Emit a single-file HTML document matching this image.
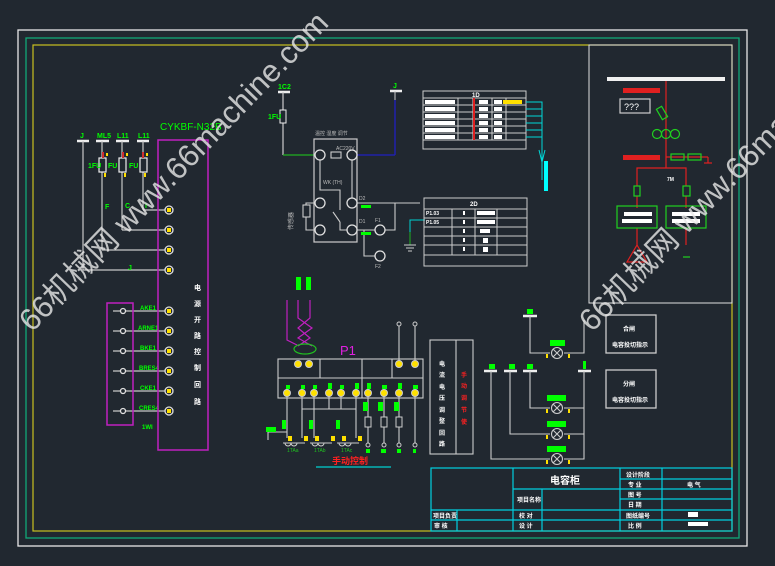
<!DOCTYPE html>
<html><head><meta charset="utf-8"><style>
html,body{margin:0;padding:0;background:#212830;width:775px;height:566px;overflow:hidden}
svg{display:block}
text{font-family:"Liberation Sans","Noto Sans CJK SC",sans-serif}
</style></head><body>
<svg width="775" height="566" viewBox="0 0 775 566" xmlns="http://www.w3.org/2000/svg">
<rect width="775" height="566" fill="#212830"/>
<!-- frames -->
<rect x="18" y="30" width="729" height="516" fill="none" stroke="#e8e8e8" stroke-width="1.3"/>
<rect x="26" y="38" width="713" height="500" fill="none" stroke="#10a878" stroke-width="1.3"/>
<rect x="33" y="45" width="699" height="486" fill="none" stroke="#c8c020" stroke-width="1.2"/>
<rect x="589" y="45" width="143" height="258" fill="none" stroke="#e0e0e0" stroke-width="1"/>

<g stroke="#c8c8c8" stroke-width="1.2" fill="none">
<!-- left terminals -->
<line x1="77" y1="141" x2="89" y2="141" stroke-width="2.5" stroke="#eee"/>
<line x1="96" y1="141" x2="109" y2="141" stroke-width="2.5" stroke="#eee"/>
<line x1="116" y1="141" x2="129" y2="141" stroke-width="2.5" stroke="#eee"/>
<line x1="137" y1="141" x2="149" y2="141" stroke-width="2.5" stroke="#eee"/>
<line x1="83" y1="141" x2="83" y2="270"/>
<line x1="102" y1="141" x2="102" y2="250"/>
<line x1="122" y1="141" x2="122" y2="230"/>
<line x1="143" y1="141" x2="143" y2="210"/>
<rect x="99" y="158" width="7" height="14" fill="#212830" stroke="#eee"/>
<rect x="119" y="158" width="7" height="14" fill="#212830" stroke="#eee"/>
<rect x="140" y="158" width="7" height="14" fill="#212830" stroke="#eee"/>
<line x1="143" y1="210" x2="166" y2="210"/>
<line x1="122" y1="230" x2="166" y2="230"/>
<line x1="102" y1="250" x2="166" y2="250"/>
<line x1="83" y1="270" x2="166" y2="270"/>
<!-- lower terminals -->
<line x1="113" y1="311" x2="166" y2="311"/><line x1="113" y1="331" x2="166" y2="331"/>
<line x1="113" y1="351" x2="166" y2="351"/><line x1="113" y1="371" x2="166" y2="371"/>
<line x1="113" y1="391" x2="166" y2="391"/><line x1="113" y1="411" x2="166" y2="411"/>
</g>
<g fill="#d03030"><rect x="102" y="152" width="2" height="6"/><rect x="122" y="152" width="2" height="6"/><rect x="142" y="152" width="2" height="6"/></g>
<g fill="#ffe000"><rect x="106" y="153" width="2" height="3"/><rect x="126" y="153" width="2" height="3"/><rect x="146" y="153" width="2" height="3"/>
<rect x="104" y="173" width="2" height="4"/><rect x="124" y="173" width="2" height="4"/><rect x="144" y="173" width="2" height="4"/></g>
<g fill="#00ff00" font-size="7" font-weight="bold">
<text x="80" y="138">J</text><text x="97" y="138">ML5</text><text x="117" y="138">L11</text><text x="138" y="138">L11</text>
<text x="88" y="168">1FU</text><text x="108" y="168">FU</text><text x="129" y="168">FU</text>
<text x="105" y="209">F</text><text x="125" y="208">C</text><text x="145" y="208">I</text><text x="128" y="270">J</text>
<text x="160" y="130" font-size="10" font-weight="normal">CYKBF-N32B</text>
<text x="140" y="310" font-size="6">AKE1</text><text x="138" y="330" font-size="6">ARNE1</text><text x="140" y="350" font-size="6">BKE1</text>
<text x="139" y="370" font-size="6">BRES4</text><text x="140" y="390" font-size="6">CKE1</text><text x="139" y="410" font-size="6">CRES4</text>
<text x="142" y="429" font-size="6">1WI</text>
</g>
<rect x="158" y="140" width="50" height="310" fill="none" stroke="#c020c0" stroke-width="1.5"/>
<rect x="107" y="303" width="26" height="122" fill="none" stroke="#c020c0" stroke-width="1.5"/>
<g stroke="#e0e0e0" stroke-width="1.3" fill="#212830">
<circle cx="169" cy="210" r="4"/><circle cx="169" cy="230" r="4"/><circle cx="169" cy="250" r="4"/><circle cx="169" cy="270" r="4"/>
<circle cx="169" cy="311" r="4"/><circle cx="169" cy="331" r="4"/><circle cx="169" cy="351" r="4"/><circle cx="169" cy="371" r="4"/><circle cx="169" cy="391" r="4"/><circle cx="169" cy="411" r="4"/>
<circle cx="123" cy="311" r="2.5"/><circle cx="123" cy="331" r="2.5"/><circle cx="123" cy="351" r="2.5"/><circle cx="123" cy="371" r="2.5"/><circle cx="123" cy="391" r="2.5"/><circle cx="123" cy="411" r="2.5"/>
</g>
<g fill="#ffe000"><rect x="167" y="208" width="4" height="4"/><rect x="167" y="228" width="4" height="4"/><rect x="167" y="248" width="4" height="4"/><rect x="167" y="268" width="4" height="4"/>
<rect x="167" y="309" width="4" height="4"/><rect x="167" y="329" width="4" height="4"/><rect x="167" y="349" width="4" height="4"/><rect x="167" y="369" width="4" height="4"/><rect x="167" y="389" width="4" height="4"/><rect x="167" y="409" width="4" height="4"/></g>
<g fill="#fff" font-size="7" font-weight="bold"><text x="194" y="290">电</text><text x="194" y="306">源</text><text x="194" y="322">开</text><text x="194" y="338">路</text><text x="194" y="354">控</text><text x="194" y="370">制</text><text x="194" y="387">回</text><text x="194" y="404">路</text></g>

<!-- middle relay -->
<line x1="278" y1="92" x2="290" y2="92" stroke="#eee" stroke-width="2.5"/>
<line x1="283" y1="92" x2="283" y2="155" stroke="#ccc" stroke-width="1.2"/>
<rect x="280" y="110" width="6" height="13" fill="#212830" stroke="#eee"/>
<line x1="283" y1="155" x2="315" y2="155" stroke="#20b020" stroke-width="1.2"/>
<line x1="357" y1="155" x2="395" y2="155" stroke="#2020c0" stroke-width="1.3"/>
<line x1="395" y1="155" x2="395" y2="100" stroke="#2020c0" stroke-width="1.3"/>
<line x1="390" y1="91" x2="402" y2="91" stroke="#eee" stroke-width="2.5"/>
<line x1="395" y1="91" x2="395" y2="100" stroke="#ccc"/>
<g fill="#00ff00" font-size="7" font-weight="bold"><text x="278" y="89">1C2</text><text x="268" y="119">1FU</text><text x="393" y="88">J</text></g>
<rect x="314" y="139" width="43" height="103" fill="none" stroke="#ccc" stroke-width="1.2"/>
<g fill="#bbb" font-size="5"><text x="315" y="135">温控 湿度 调节</text><text x="336" y="150">AC220V</text><text x="323" y="184">WK (TH)</text><text x="359" y="200">D2</text><text x="359" y="223">D1</text><text x="375" y="222">F1</text><text x="375" y="268">F2</text></g>
<text x="293" y="230" fill="#bbb" font-size="6" transform="rotate(-90 293 230)">传感器</text>
<g stroke="#ccc" stroke-width="1.1" fill="none">
<rect x="331" y="152" width="10" height="6"/>
<polyline points="320,160 320,190 340,190 340,210"/>
<polyline points="352,160 352,198"/>
<line x1="333" y1="212" x2="340" y2="222"/>
<polyline points="352,230 340,230 340,222"/>
<rect x="303" y="205" width="7" height="12"/>
<polyline points="306,205 306,203 316,203"/><polyline points="306,217 306,230 316,230"/>
<line x1="356" y1="203" x2="420" y2="203"/><line x1="356" y1="230" x2="375" y2="230"/>
<polyline points="364,230 364,256 376,256"/>
<polyline points="385,230 395,230 395,203"/>
</g>
<g stroke="#e0e0e0" stroke-width="1.3" fill="#212830">
<circle cx="320" cy="155" r="5"/><circle cx="352" cy="155" r="5"/><circle cx="320" cy="203" r="5"/><circle cx="352" cy="203" r="5"/><circle cx="320" cy="230" r="5"/><circle cx="352" cy="230" r="5"/>
<circle cx="380" cy="230" r="5"/><circle cx="380" cy="256" r="5"/>
</g>
<rect x="361" y="205" width="10" height="3" fill="#00ff00"/><rect x="361" y="232" width="10" height="3" fill="#00ff00"/>
<polyline points="410,232 410,220 425,220" stroke="#00d0d0" fill="none"/>
<line x1="410" y1="232" x2="410" y2="245" stroke="#20b020"/>
<g stroke="#ccc"><line x1="404" y1="245" x2="416" y2="245"/><line x1="406" y1="248" x2="414" y2="248"/><line x1="408" y1="251" x2="412" y2="251"/></g>

<!-- table1 -->
<g stroke="#ccc" stroke-width="1" fill="none">
<rect x="423" y="91" width="103" height="58"/>
<line x1="423" y1="98" x2="526" y2="98"/><line x1="423" y1="140" x2="526" y2="140"/>
<line x1="458" y1="98" x2="458" y2="140"/><line x1="473" y1="98" x2="473" y2="140"/><line x1="492" y1="98" x2="492" y2="140"/><line x1="506" y1="98" x2="506" y2="140"/>
<line x1="423" y1="105" x2="526" y2="105"/><line x1="423" y1="112" x2="526" y2="112"/><line x1="423" y1="119" x2="526" y2="119"/><line x1="423" y1="126" x2="526" y2="126"/><line x1="423" y1="133" x2="526" y2="133"/>
</g>
<g fill="#fff"><rect x="425" y="100" width="30" height="4"/><rect x="425" y="107" width="30" height="4"/><rect x="425" y="114" width="30" height="4"/><rect x="425" y="121" width="30" height="4"/><rect x="425" y="128" width="30" height="4"/><rect x="425" y="135" width="30" height="4"/>
<rect x="479" y="100" width="9" height="4"/><rect x="479" y="107" width="9" height="4"/><rect x="479" y="114" width="9" height="4"/><rect x="479" y="121" width="9" height="4"/><rect x="479" y="128" width="9" height="4"/><rect x="479" y="135" width="9" height="4"/>
<rect x="494" y="100" width="8" height="4"/><rect x="494" y="107" width="8" height="4"/><rect x="494" y="114" width="8" height="4"/><rect x="494" y="121" width="8" height="4"/><rect x="494" y="128" width="8" height="4"/><rect x="494" y="135" width="8" height="4"/>
<text x="472" y="97" font-size="6" font-weight="bold">1D</text></g>
<rect x="503" y="100" width="19" height="4" fill="#ffe000"/>
<rect x="473" y="98" width="2" height="42" fill="#e02020"/>
<g stroke="#00d8d8" stroke-width="1" fill="none">
<polyline points="526,102 542,102 542,180"/><line x1="526" y1="109" x2="542" y2="109"/><line x1="526" y1="116" x2="542" y2="116"/><line x1="526" y1="123" x2="542" y2="123"/><line x1="526" y1="130" x2="542" y2="130"/><line x1="526" y1="137" x2="542" y2="137"/>
<polyline points="539,150 542,162 545,150"/>
</g>
<rect x="544" y="161" width="4" height="30" fill="#00ffff"/>
<!-- table2 -->
<g stroke="#ccc" stroke-width="1" fill="none">
<rect x="424" y="198" width="103" height="68"/>
<line x1="424" y1="209" x2="527" y2="209"/><line x1="424" y1="218" x2="527" y2="218"/><line x1="424" y1="227" x2="527" y2="227"/><line x1="424" y1="236" x2="527" y2="236"/><line x1="424" y1="245" x2="527" y2="245"/><line x1="424" y1="255" x2="527" y2="255"/>
<line x1="452" y1="209" x2="452" y2="255"/><line x1="475" y1="209" x2="475" y2="255"/><line x1="497" y1="209" x2="497" y2="255"/>
</g>
<g fill="#fff" font-size="5" font-weight="bold"><text x="470" y="206" font-size="6">2D</text><text x="426" y="215">P1.03</text><text x="426" y="224">P1.05</text>
<rect x="477" y="211" width="18" height="4"/><rect x="477" y="220" width="18" height="4"/><rect x="480" y="229" width="10" height="4"/><rect x="483" y="238" width="5" height="5"/><rect x="483" y="247" width="5" height="5"/>
<rect x="463" y="211" width="2" height="4"/><rect x="463" y="220" width="2" height="4"/><rect x="463" y="229" width="2" height="4"/><rect x="463" y="238" width="2" height="4"/><rect x="463" y="247" width="2" height="4"/></g>

<!-- right panel -->
<rect x="607" y="77" width="118" height="4" fill="#f0f0f0"/>
<g stroke="#e02020" stroke-width="1.2" fill="none">
<line x1="666" y1="81" x2="666" y2="168"/>
<polyline points="637,186 637,168 686,168 686,186"/>
<line x1="637" y1="196" x2="637" y2="208"/><line x1="686" y1="196" x2="686" y2="208"/>
<line x1="637" y1="228" x2="637" y2="245"/><polygon points="637,245 627,262 647,262"/>
<line x1="686" y1="228" x2="686" y2="245"/>
<line x1="666" y1="157" x2="708" y2="157"/><polyline points="708,157 708,163"/><line x1="704" y1="163" x2="712" y2="163"/>
</g>
<g fill="#e02020" font-size="6" font-weight="bold"><rect x="623" y="88" width="37" height="5"/><rect x="623" y="155" width="37" height="5"/></g>
<rect x="620" y="99" width="30" height="14" fill="none" stroke="#ccc" stroke-width="1.2"/>
<text x="624" y="110" fill="#fff" font-size="9">???</text>
<g stroke="#20d020" stroke-width="1.2" fill="none">
<rect x="659" y="107" width="6" height="12" transform="rotate(-30 662 113)"/>
<circle cx="657" cy="134" r="4.5"/><circle cx="666" cy="134" r="4.5"/><circle cx="675" cy="134" r="4.5"/>
<rect x="671" y="154" width="13" height="6"/><rect x="688" y="154" width="13" height="6"/>
<rect x="634" y="186" width="6" height="10"/><rect x="683" y="186" width="7" height="10"/>
<rect x="617" y="206" width="40" height="22"/><rect x="666" y="206" width="40" height="22"/>
<line x1="683" y1="257" x2="690" y2="257"/>
</g>
<g fill="#fff" font-size="5" font-weight="bold"><text x="667" y="181">7M</text><rect x="624" y="212" width="28" height="4"/><rect x="622" y="219" width="30" height="4"/><rect x="672" y="212" width="28" height="4"/><rect x="672" y="219" width="28" height="4"/></g>

<!-- CT / P1 -->
<g stroke="#c020c0" stroke-width="1.2" fill="none">
<polyline points="287,300 287,340 297,345"/><polyline points="298,300 298,318 312,328 298,338 312,346"/><polyline points="310,300 310,318 298,328 310,338 298,346"/>
</g>
<rect x="296" y="277" width="5" height="13" fill="#00ff00"/><rect x="306" y="277" width="5" height="13" fill="#00ff00"/>
<ellipse cx="305" cy="349" rx="11" ry="5" fill="none" stroke="#20c020" stroke-width="1.2"/>
<text x="340" y="355" fill="#e020e0" font-size="13">P1</text>
<g stroke="#ccc" stroke-width="1.1" fill="none">
<rect x="278" y="359" width="145" height="39"/><line x1="278" y1="378" x2="423" y2="378"/>
<line x1="320" y1="359" x2="320" y2="378"/><line x1="362" y1="359" x2="362" y2="398"/><line x1="392" y1="359" x2="392" y2="378"/>
<line x1="399" y1="325" x2="399" y2="364"/><line x1="415" y1="325" x2="415" y2="364"/>
<line x1="287" y1="393" x2="287" y2="438"/><line x1="302" y1="393" x2="302" y2="438"/><line x1="314" y1="393" x2="314" y2="438"/><line x1="329" y1="393" x2="329" y2="409"/><line x1="341" y1="393" x2="341" y2="409"/><line x1="356" y1="393" x2="356" y2="438"/>
<line x1="302" y1="409" x2="356" y2="409"/>
<line x1="368" y1="393" x2="368" y2="445"/><line x1="384" y1="393" x2="384" y2="445"/><line x1="399" y1="393" x2="399" y2="445"/><line x1="415" y1="393" x2="415" y2="445"/>
<polyline points="268,440 268,432 287,432"/>
</g>
<g fill="#ffe000" stroke="#ccc"><circle cx="298" cy="364" r="3.5"/><circle cx="309" cy="364" r="3.5"/><circle cx="399" cy="364" r="3.5"/><circle cx="415" cy="364" r="3.5"/>
<circle cx="287" cy="393" r="3.5"/><circle cx="302" cy="393" r="3.5"/><circle cx="314" cy="393" r="3.5"/><circle cx="329" cy="393" r="3.5"/><circle cx="341" cy="393" r="3.5"/><circle cx="356" cy="393" r="3.5"/><circle cx="368" cy="393" r="3.5"/><circle cx="384" cy="393" r="3.5"/><circle cx="399" cy="393" r="3.5"/><circle cx="415" cy="393" r="3.5"/></g>
<g fill="#00ff00"><rect x="286" y="385" width="4" height="4"/><rect x="301" y="385" width="4" height="4"/><rect x="313" y="385" width="4" height="4"/><rect x="328" y="383" width="4" height="6"/><rect x="340" y="385" width="4" height="4"/><rect x="355" y="383" width="4" height="6"/><rect x="367" y="383" width="4" height="6"/><rect x="382" y="385" width="5" height="4"/><rect x="398" y="383" width="4" height="6"/><rect x="413" y="385" width="5" height="4"/>
<rect x="363" y="402" width="5" height="9"/><rect x="378" y="402" width="5" height="9"/><rect x="394" y="402" width="5" height="9"/>
<rect x="266" y="427" width="10" height="5"/><rect x="282" y="420" width="4" height="9"/><rect x="309" y="420" width="4" height="9"/><rect x="336" y="420" width="4" height="9"/>
<rect x="366" y="449" width="4" height="4"/><rect x="381" y="449" width="5" height="4"/><rect x="397" y="449" width="4" height="4"/><rect x="413" y="449" width="3" height="4"/></g>
<g stroke="#ccc" fill="#212830"><rect x="365" y="417" width="6" height="10"/><rect x="381" y="417" width="6" height="10"/><rect x="396" y="417" width="6" height="10"/>
<circle cx="368" cy="445" r="2"/><circle cx="384" cy="445" r="2"/><circle cx="399" cy="445" r="2"/><circle cx="415" cy="445" r="2"/><circle cx="399" cy="324" r="2"/><circle cx="415" cy="324" r="2"/></g>
<g fill="#ffe000"><rect x="288" y="436" width="4" height="5"/><rect x="304" y="436" width="4" height="5"/><rect x="315" y="436" width="4" height="5"/><rect x="331" y="436" width="4" height="5"/><rect x="342" y="436" width="4" height="5"/><rect x="358" y="436" width="4" height="5"/></g>
<g stroke="#ccc" fill="none"><path d="M285 443 a3 3 0 0 0 6 0 a3 3 0 0 0 6 0 M312 443 a3 3 0 0 0 6 0 a3 3 0 0 0 6 0 M339 443 a3 3 0 0 0 6 0 a3 3 0 0 0 6 0"/><line x1="283" y1="443" x2="305" y2="443"/><line x1="310" y1="443" x2="332" y2="443"/><line x1="337" y1="443" x2="359" y2="443"/></g>
<g fill="#20c020" font-size="5"><text x="287" y="452">1TAa</text><text x="314" y="452">1TAb</text><text x="341" y="452">1TAc</text></g>
<text x="332" y="464" fill="#ff2020" font-size="9" font-weight="bold">手动控制</text>
<line x1="316" y1="467" x2="391" y2="467" stroke="#00d0d0" stroke-width="1.2"/>

<!-- vertical box -->
<g stroke="#ccc" stroke-width="1.1" fill="none"><rect x="430" y="340" width="43" height="114"/><line x1="456" y1="340" x2="456" y2="454"/></g>
<g fill="#fff" font-size="6" font-weight="bold"><text x="439" y="366">电</text><text x="439" y="377">流</text><text x="439" y="389">电</text><text x="439" y="400">压</text><text x="439" y="412">调</text><text x="439" y="423">整</text><text x="439" y="435">回</text><text x="439" y="446">路</text></g>
<g fill="#ff2020" font-size="6" font-weight="bold"><text x="461" y="377">手</text><text x="461" y="388">动</text><text x="461" y="400">调</text><text x="461" y="412">节</text><text x="461" y="424">使</text></g>

<!-- lamps -->
<g stroke="#ccc" stroke-width="1.1" fill="none">
<line x1="523" y1="316" x2="537" y2="316" stroke-width="2.5" stroke="#eee"/>
<line x1="484" y1="371" x2="497" y2="371" stroke-width="2.5" stroke="#eee"/><line x1="504" y1="371" x2="517" y2="371" stroke-width="2.5" stroke="#eee"/><line x1="523" y1="371" x2="537" y2="371" stroke-width="2.5" stroke="#eee"/><line x1="578" y1="371" x2="591" y2="371" stroke-width="2.5" stroke="#eee"/>
<polyline points="530,316 530,353 550,353"/><polyline points="564,353 584,353 584,320"/>
<polyline points="491,371 491,459 550,459"/><polyline points="510,371 510,434 550,434"/><polyline points="530,371 530,408 550,408"/>
<polyline points="584,371 584,459 564,459"/><line x1="564" y1="434" x2="584" y2="434"/><line x1="564" y1="408" x2="584" y2="408"/>
<rect x="606" y="315" width="50" height="38" stroke-width="1.3"/><rect x="606" y="370" width="50" height="38" stroke-width="1.3"/>
<circle cx="557" cy="353" r="5.5"/><circle cx="557" cy="408" r="5.5"/><circle cx="557" cy="434" r="5.5"/><circle cx="557" cy="459" r="5.5"/>
<path d="M553 349 l8 8 M561 349 l-8 8 M553 404 l8 8 M561 404 l-8 8 M553 430 l8 8 M561 430 l-8 8 M553 455 l8 8 M561 455 l-8 8"/>
</g>
<g fill="#00ff00"><rect x="527" y="309" width="6" height="5"/><rect x="489" y="364" width="6" height="5"/><rect x="509" y="364" width="6" height="5"/><rect x="527" y="364" width="6" height="5"/><rect x="583" y="361" width="3" height="8"/>
<rect x="550" y="340" width="15" height="6"/><rect x="547" y="395" width="19" height="6"/><rect x="547" y="421" width="19" height="6"/><rect x="547" y="446" width="19" height="6"/></g>
<g fill="#ffe000"><rect x="546" y="354" width="2" height="4"/><rect x="568" y="354" width="2" height="4"/><rect x="546" y="409" width="2" height="4"/><rect x="568" y="409" width="2" height="4"/><rect x="546" y="435" width="2" height="4"/><rect x="568" y="435" width="2" height="4"/><rect x="546" y="460" width="2" height="4"/><rect x="568" y="460" width="2" height="4"/></g>
<g fill="#fff" font-size="6" font-weight="bold"><text x="623" y="331">合闸</text><text x="612" y="347">电容投切指示</text><text x="623" y="386">分闸</text><text x="612" y="402">电容投切指示</text></g>

<!-- title block -->
<g stroke="#00d0e0" stroke-width="1.2" fill="none">
<rect x="431" y="468" width="301" height="63"/>
<line x1="513" y1="468" x2="513" y2="531"/><line x1="620" y1="468" x2="620" y2="531"/><line x1="662" y1="468" x2="662" y2="531"/>
<line x1="513" y1="489" x2="620" y2="489"/><line x1="542" y1="489" x2="542" y2="531"/>
<line x1="431" y1="510" x2="732" y2="510"/><line x1="457" y1="510" x2="457" y2="531"/><line x1="431" y1="520" x2="732" y2="520"/>
<line x1="620" y1="479" x2="732" y2="479"/><line x1="620" y1="489" x2="732" y2="489"/><line x1="620" y1="499" x2="732" y2="499"/>
</g>
<g fill="#fff" font-size="6" font-weight="bold">
<text x="550" y="484" font-size="10">电容柜</text><text x="517" y="502">项目名称</text>
<text x="433" y="518">项目负责</text><text x="434" y="528">审 核</text><text x="519" y="518">校 对</text><text x="519" y="528">设 计</text>
<text x="626" y="477">设计阶段</text><text x="628" y="487">专 业</text><text x="628" y="497">图 号</text><text x="628" y="507">日 期</text><text x="626" y="518">图纸编号</text><text x="628" y="528">比 例</text>
<text x="687" y="487">电 气</text><rect x="688" y="512" width="10" height="5"/><rect x="688" y="522" width="20" height="4"/>
</g>

<!-- watermarks -->
<g fill="#e8e8e8" fill-opacity="0.8" font-size="31">
<text x="0" y="0" transform="translate(32,333) rotate(-46)">66机械网 www.66machine.com</text>
<text x="0" y="0" transform="translate(592,333) rotate(-46)">66机械网 www.66machine.com</text>
</g>
</svg>
</body></html>
